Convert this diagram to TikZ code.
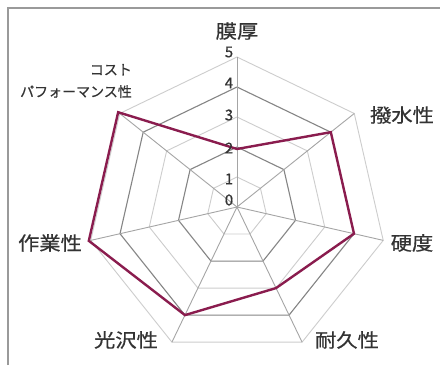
\documentclass[tikz,border=0pt]{standalone}
\usepackage{fontspec}
\newfontfamily\jp[FakeBold=0.6,FakeStretch=1.12]{Noto Sans CJK JP}
\newfontfamily\jpsmall[FakeBold=0.6]{Noto Sans CJK JP}
\newfontfamily\jpnum[FakeBold=0.6]{Noto Sans CJK JP}
\definecolor{ringlight}{HTML}{CDCDCD}
\definecolor{ringdark}{HTML}{858585}
\definecolor{spoke}{HTML}{A5A5A5}
\definecolor{dataline}{HTML}{8A1C4E}
\definecolor{txt}{HTML}{333333}
\definecolor{frame}{HTML}{9A9A9A}
\tikzset{
  lbl/.style={font=\jp\fontsize{19}{21}\selectfont, text=txt, inner sep=0pt},
  smalllbl/.style={font=\jpsmall\fontsize{14}{22}\selectfont, text=txt, inner sep=0pt, align=right},
  num/.style={font=\jpnum\fontsize{15}{16}\selectfont, text=txt, inner sep=0pt},
  lightring/.style={draw=ringlight, line width=0.9pt},
  darkring/.style={draw=ringdark, line width=1.1pt},
  spokeline/.style={draw=spoke, line width=0.9pt},
  datapoly/.style={draw=dataline, line width=2.4pt, line join=miter},
}
\begin{document}
\begin{tikzpicture}[x=1pt,y=1pt]
\useasboundingbox (0,0) rectangle (440,365);
\fill[white] (0,0) rectangle (440,365);
% frame
\coordinate (fa) at (8,0);
\coordinate (fb) at (8,357);
\coordinate (fc) at (440,357);
\draw[frame, line width=2pt] (fa) -- (fb) -- (fc);
\coordinate (c) at (237,158);
\begin{scope}[shift={(c)}]
  % rings
  \foreach \k in {1,3,5} {
    \draw[lightring] (90:30*\k)
      \foreach \i in {1,...,6} { -- ({90-\i*360/7}:30*\k) } -- cycle;
  }
  \foreach \k in {2,4} {
    \draw[darkring] (90:30*\k)
      \foreach \i in {1,...,6} { -- ({90-\i*360/7}:30*\k) } -- cycle;
  }
  % spokes
  \coordinate (o) at (0,0);
  \foreach \i in {0,...,6} {
    \coordinate (s\i) at ({90-\i*360/7}:150);
    \draw[spokeline] (o) -- (s\i);
  }
  % data
  \coordinate (d0) at (90:58);
  \coordinate (d1) at ({90-1*360/7}:120);
  \coordinate (d2) at ({90-2*360/7}:120);
  \coordinate (d3) at ({90-3*360/7}:90);
  \coordinate (d4) at ({90-4*360/7}:120);
  \coordinate (d5) at ({90-5*360/7}:152);
  \coordinate (d6) at ({90-6*360/7}:152);
  \draw[datapoly] (d0) -- (d1) -- (d2) -- (d3) -- (d4) -- (d5) -- (d6) -- cycle;
\end{scope}
% scale numbers
\node[num] (n0) at (229,165) {0};
\node[num] (n1) at (229,186) {1};
\node[num] (n2) at (229,217) {2};
\node[num] (n3) at (229,250) {3};
\node[num] (n4) at (229,282) {4};
\node[num] (n5) at (229,313) {5};
% axis labels
\node[lbl] (l0) at (237,334) {膜厚};
\node[lbl] (l1) at (402,250) {撥水性};
\node[lbl] (l2) at (412,122) {硬度};
\node[lbl] (l3) at (347,25) {耐久性};
\node[lbl] (l4) at (126,25) {光沢性};
\node[lbl] (l5) at (50,122) {作業性};
\node[smalllbl] (l6) at (76,284) {コスト\\パフォーマンス性};
\end{tikzpicture}
\end{document}
